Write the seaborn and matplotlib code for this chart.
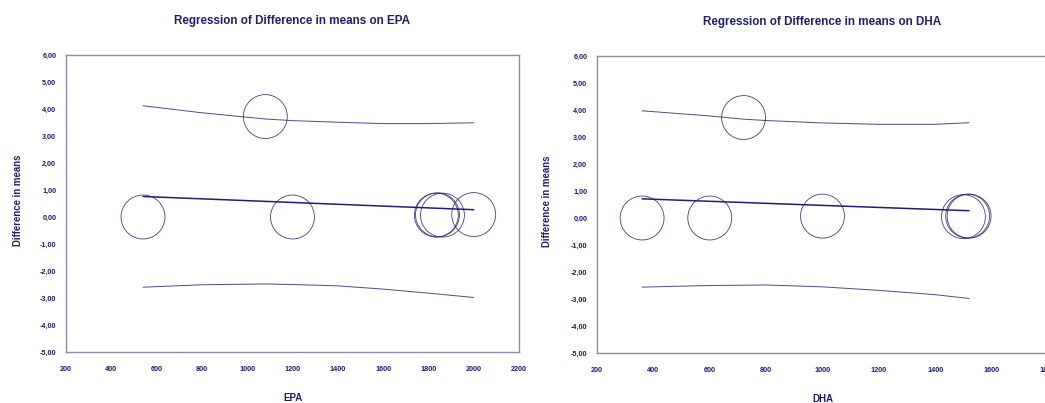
import matplotlib
matplotlib.use("Agg")
import matplotlib.pyplot as plt
from matplotlib.ticker import FuncFormatter, MultipleLocator
import seaborn as sns
import pandas as pd

# --- EPA meta-regression ---
epa_x = [540, 1080, 1200, 1835, 1840, 1862, 2000]
epa_y = [0.00, 3.72, 0.00, 0.07, 0.08, 0.07, 0.09]
epa_w = [1.0, 1.0, 1.0, 1.0, 1.0, 1.0, 1.0]
epa_fit_x = [540, 2000]
epa_fit_y = [0.76, 0.27]
epa_band_x = [540, 800, 1080, 1200, 1400, 1600, 1800, 2000]
epa_upper = [4.12, 3.86, 3.63, 3.57, 3.51, 3.46, 3.46, 3.49]
epa_lower = [-2.60, -2.51, -2.48, -2.50, -2.55, -2.67, -2.82, -2.98]

# --- DHA meta-regression ---
dha_x = [360, 600, 720, 1000, 1500, 1515, 1520]
dha_y = [0.00, 0.00, 3.72, 0.07, 0.05, 0.07, 0.07]
dha_w = [1.0, 1.0, 1.0, 1.0, 1.0, 1.0, 1.0]
dha_fit_x = [360, 1520]
dha_fit_y = [0.71, 0.27]
dha_band_x = [360, 600, 720, 800, 1000, 1200, 1400, 1520]
dha_upper = [3.97, 3.78, 3.66, 3.61, 3.52, 3.47, 3.47, 3.53]
dha_lower = [-2.56, -2.50, -2.49, -2.48, -2.55, -2.68, -2.84, -2.98]

y_ticks = [-5, -4, -3, -2, -1, 0, 1, 2, 3, 4, 5, 6]

NAVY = "#1e1e74"
SPINE = "#8c8ca8"

sns.set_theme(style="white")
plt.rcParams["font.family"] = ["Liberation Sans", "DejaVu Sans"]

fig = plt.figure(figsize=(10.45, 4.03), dpi=100)
W, H = 1045.0, 403.0


def panel(rect, xs, ys, ws, fx, fy, bx, bu, bl, xlim, title, xlabel, ylab_x):
    ax = fig.add_axes(rect)
    pts = pd.DataFrame({"x": xs, "y": ys, "w": ws})
    sns.scatterplot(data=pts, x="x", y="y", size="w", sizes=(1000, 1000),
                    facecolor="none", edgecolor=NAVY, linewidth=0.6,
                    alpha=0.85, legend=False, ax=ax)
    band = pd.DataFrame({"x": bx, "up": bu, "lo": bl})
    sns.lineplot(data=band, x="x", y="up", color=NAVY, linewidth=0.7,
                 alpha=0.8, ax=ax)
    sns.lineplot(data=band, x="x", y="lo", color=NAVY, linewidth=0.7,
                 alpha=0.8, ax=ax)
    fit = pd.DataFrame({"x": fx, "y": fy})
    sns.lineplot(data=fit, x="x", y="y", color=NAVY, linewidth=1.1, ax=ax)

    ax.set_xlim(*xlim)
    ax.set_ylim(-5, 6)
    ax.xaxis.set_major_locator(MultipleLocator(200))
    ax.set_yticks(y_ticks)
    ax.yaxis.set_major_formatter(
        FuncFormatter(lambda v, p: f"{v:.2f}".replace(".", ",")))
    ax.xaxis.set_major_formatter(FuncFormatter(lambda v, p: f"{v:.0f}"))
    ax.tick_params(axis="both", labelsize=5.2, colors=SPINE,
                   labelcolor=NAVY, width=0.8, length=3, direction="out")
    ax.tick_params(axis="x", pad=7)
    ax.tick_params(axis="y", pad=4)
    for lab in ax.get_xticklabels() + ax.get_yticklabels():
        lab.set_fontweight("bold")
    for s in ax.spines.values():
        s.set_color(SPINE)
        s.set_linewidth(1.0)
        s.set_visible(True)
    ax.set_xlabel(xlabel, fontsize=7.0, fontweight="bold", color=NAVY)
    ax.set_ylabel("Difference in means", fontsize=6.9, fontweight="bold",
                  color=NAVY)
    ax.xaxis.set_label_coords(0.5, -0.137)
    ax.yaxis.set_label_coords(ylab_x, 0.51)
    ax.set_title(title, fontsize=8.4, fontweight="bold", color=NAVY, pad=22)
    return ax


ax1 = panel([66 / W, (H - 352) / H, (519 - 66) / W, (352 - 55) / H],
            epa_x, epa_y, epa_w, epa_fit_x, epa_fit_y,
            epa_band_x, epa_upper, epa_lower, (200, 2200),
            "Regression of Difference in means on EPA", "EPA", -0.096)
ax2 = panel([597 / W, (H - 353) / H, (1048 - 597) / W, (353 - 56) / H],
            dha_x, dha_y, dha_w, dha_fit_x, dha_fit_y,
            dha_band_x, dha_upper, dha_lower, (200, 1800),
            "Regression of Difference in means on DHA", "DHA", -0.100)

fig.savefig("out.png", dpi=100, facecolor="white")
